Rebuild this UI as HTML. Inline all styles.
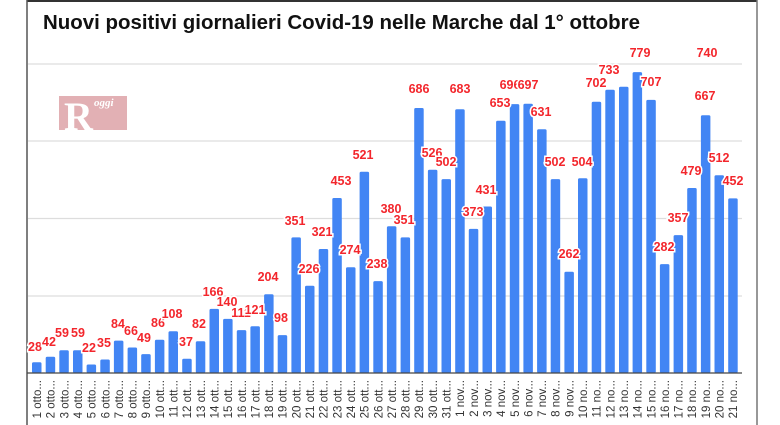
<!DOCTYPE html>
<html><head><meta charset="utf-8"><style>
html,body{margin:0;padding:0;background:#fff;}
svg{display:block;}
.l{font-family:"Liberation Sans",sans-serif;font-size:12.5px;font-weight:bold;fill:#f3262c;stroke:#fff;stroke-width:3px;paint-order:stroke;text-anchor:middle;}
.x{font-family:"Liberation Sans",sans-serif;font-size:11.5px;fill:#333;text-anchor:end;}
</style></head><body>
<svg width="780" height="425" viewBox="0 0 780 425" xmlns="http://www.w3.org/2000/svg">
<rect x="0" y="0" width="780" height="425" fill="#fff"/>
<line x1="27" y1="1" x2="757" y2="1" stroke="#333" stroke-width="2"/>
<line x1="27" y1="0" x2="27" y2="425" stroke="#555" stroke-width="1.5"/>
<line x1="757" y1="0" x2="757" y2="425" stroke="#777" stroke-width="1.5"/>
<text x="43" y="29" font-family="Liberation Sans,sans-serif" font-size="20" font-weight="bold" fill="#111" textLength="597" lengthAdjust="spacingAndGlyphs">Nuovi positivi giornalieri Covid-19 nelle Marche dal 1° ottobre</text>
<g stroke="#ddd" stroke-width="1.2">
<line x1="28" y1="64" x2="742" y2="64"/>
<line x1="28" y1="141" x2="742" y2="141"/>
<line x1="28" y1="218.5" x2="742" y2="218.5"/>
<line x1="28" y1="296" x2="742" y2="296"/>
</g>
<rect x="59" y="96" width="68" height="34" fill="#e2b0b4"/>
<text x="64" y="130" font-family="Liberation Serif,serif" font-size="40" font-weight="bold" fill="#fff">R</text>
<text x="94" y="106" font-family="Liberation Serif,serif" font-size="11" font-style="italic" font-weight="bold" fill="#fff">oggi</text>
<g fill="#4285f4">
<rect x="32.0" y="362.2" width="9.5" height="10.8" rx="1.5"/>
<rect x="45.7" y="356.8" width="9.5" height="16.2" rx="1.5"/>
<rect x="59.3" y="350.2" width="9.5" height="22.8" rx="1.5"/>
<rect x="73.0" y="350.2" width="9.5" height="22.8" rx="1.5"/>
<rect x="86.6" y="364.5" width="9.5" height="8.5" rx="1.5"/>
<rect x="100.3" y="359.5" width="9.5" height="13.5" rx="1.5"/>
<rect x="113.9" y="340.6" width="9.5" height="32.4" rx="1.5"/>
<rect x="127.6" y="347.5" width="9.5" height="25.5" rx="1.5"/>
<rect x="141.2" y="354.1" width="9.5" height="18.9" rx="1.5"/>
<rect x="154.9" y="339.8" width="9.5" height="33.2" rx="1.5"/>
<rect x="168.5" y="331.3" width="9.5" height="41.7" rx="1.5"/>
<rect x="182.2" y="358.7" width="9.5" height="14.3" rx="1.5"/>
<rect x="195.8" y="341.3" width="9.5" height="31.7" rx="1.5"/>
<rect x="209.5" y="308.9" width="9.5" height="64.1" rx="1.5"/>
<rect x="223.1" y="318.9" width="9.5" height="54.1" rx="1.5"/>
<rect x="236.8" y="330.1" width="9.5" height="42.9" rx="1.5"/>
<rect x="250.4" y="326.3" width="9.5" height="46.7" rx="1.5"/>
<rect x="264.1" y="294.2" width="9.5" height="78.8" rx="1.5"/>
<rect x="277.7" y="335.1" width="9.5" height="37.9" rx="1.5"/>
<rect x="291.4" y="237.4" width="9.5" height="135.6" rx="1.5"/>
<rect x="305.0" y="285.7" width="9.5" height="87.3" rx="1.5"/>
<rect x="318.7" y="249.0" width="9.5" height="124.0" rx="1.5"/>
<rect x="332.3" y="198.0" width="9.5" height="175.0" rx="1.5"/>
<rect x="346.0" y="267.2" width="9.5" height="105.8" rx="1.5"/>
<rect x="359.6" y="171.7" width="9.5" height="201.3" rx="1.5"/>
<rect x="373.3" y="281.1" width="9.5" height="91.9" rx="1.5"/>
<rect x="386.9" y="226.2" width="9.5" height="146.8" rx="1.5"/>
<rect x="400.6" y="237.4" width="9.5" height="135.6" rx="1.5"/>
<rect x="414.2" y="108.0" width="9.5" height="265.0" rx="1.5"/>
<rect x="427.9" y="169.8" width="9.5" height="203.2" rx="1.5"/>
<rect x="441.5" y="179.1" width="9.5" height="193.9" rx="1.5"/>
<rect x="455.2" y="109.2" width="9.5" height="263.8" rx="1.5"/>
<rect x="468.8" y="228.9" width="9.5" height="144.1" rx="1.5"/>
<rect x="482.5" y="206.5" width="9.5" height="166.5" rx="1.5"/>
<rect x="496.1" y="120.7" width="9.5" height="252.3" rx="1.5"/>
<rect x="509.8" y="104.1" width="9.5" height="268.9" rx="1.5"/>
<rect x="523.4" y="103.8" width="9.5" height="269.2" rx="1.5"/>
<rect x="537.1" y="129.2" width="9.5" height="243.8" rx="1.5"/>
<rect x="550.7" y="179.1" width="9.5" height="193.9" rx="1.5"/>
<rect x="564.4" y="271.8" width="9.5" height="101.2" rx="1.5"/>
<rect x="578.0" y="178.3" width="9.5" height="194.7" rx="1.5"/>
<rect x="591.7" y="101.8" width="9.5" height="271.2" rx="1.5"/>
<rect x="605.3" y="89.8" width="9.5" height="283.2" rx="1.5"/>
<rect x="619.0" y="86.8" width="9.5" height="286.2" rx="1.5"/>
<rect x="632.6" y="72.1" width="9.5" height="300.9" rx="1.5"/>
<rect x="646.3" y="99.9" width="9.5" height="273.1" rx="1.5"/>
<rect x="659.9" y="264.1" width="9.5" height="108.9" rx="1.5"/>
<rect x="673.6" y="235.1" width="9.5" height="137.9" rx="1.5"/>
<rect x="687.2" y="188.0" width="9.5" height="185.0" rx="1.5"/>
<rect x="700.9" y="115.3" width="9.5" height="257.7" rx="1.5"/>
<rect x="714.5" y="175.2" width="9.5" height="197.8" rx="1.5"/>
<rect x="728.2" y="198.4" width="9.5" height="174.6" rx="1.5"/>
</g>
<line x1="27" y1="373" x2="742" y2="373" stroke="#444" stroke-width="1.2"/>
<g class="l">
<text x="35" y="351">28</text><text x="49" y="346">42</text><text x="62" y="337">59</text><text x="78" y="337">59</text>
<text x="89" y="352">22</text><text x="104" y="347">35</text><text x="118" y="328">84</text><text x="131" y="335">66</text>
<text x="144" y="342">49</text><text x="158" y="327">86</text><text x="172" y="318">108</text><text x="186" y="346">37</text>
<text x="199" y="328">82</text><text x="213" y="296">166</text><text x="227" y="306">140</text><text x="241" y="317">111</text>
<text x="255" y="314">121</text><text x="268" y="281">204</text><text x="281" y="322">98</text><text x="295" y="225">351</text>
<text x="309" y="273">226</text><text x="322" y="236">321</text><text x="341" y="185">453</text><text x="350" y="254">274</text>
<text x="363" y="159">521</text><text x="377" y="268">238</text><text x="391" y="213">380</text><text x="404" y="224">351</text>
<text x="419" y="93">686</text><text x="432" y="157">526</text><text x="446" y="166">502</text><text x="460" y="93">683</text>
<text x="473" y="216">373</text><text x="486" y="194">431</text><text x="500" y="107">653</text><text x="510" y="89">696</text>
<text x="528" y="89">697</text><text x="541" y="116">631</text><text x="555" y="166">502</text><text x="569" y="258">262</text>
<text x="582" y="166">504</text><text x="596" y="87">702</text><text x="609" y="74">733</text><text x="640" y="57">779</text>
<text x="651" y="86">707</text><text x="664" y="251">282</text><text x="678" y="222">357</text><text x="691" y="175">479</text>
<text x="705" y="100">667</text><text x="707" y="57">740</text><text x="719" y="162">512</text><text x="733" y="185">452</text>
</g>
<g class="x">
<text transform="translate(41,380) rotate(-90)">1 otto...</text>
<text transform="translate(54.7,380) rotate(-90)">2 otto...</text>
<text transform="translate(68.3,380) rotate(-90)">3 otto...</text>
<text transform="translate(82,380) rotate(-90)">4 otto...</text>
<text transform="translate(95.6,380) rotate(-90)">5 otto...</text>
<text transform="translate(109.3,380) rotate(-90)">6 otto...</text>
<text transform="translate(122.9,380) rotate(-90)">7 otto...</text>
<text transform="translate(136.6,380) rotate(-90)">8 otto...</text>
<text transform="translate(150.2,380) rotate(-90)">9 otto...</text>
<text transform="translate(163.9,380) rotate(-90)">10 ott...</text>
<text transform="translate(177.5,380) rotate(-90)">11 ott...</text>
<text transform="translate(191.2,380) rotate(-90)">12 ott...</text>
<text transform="translate(204.8,380) rotate(-90)">13 ott...</text>
<text transform="translate(218.5,380) rotate(-90)">14 ott...</text>
<text transform="translate(232.1,380) rotate(-90)">15 ott...</text>
<text transform="translate(245.8,380) rotate(-90)">16 ott...</text>
<text transform="translate(259.4,380) rotate(-90)">17 ott...</text>
<text transform="translate(273.1,380) rotate(-90)">18 ott...</text>
<text transform="translate(286.7,380) rotate(-90)">19 ott...</text>
<text transform="translate(300.4,380) rotate(-90)">20 ott...</text>
<text transform="translate(314,380) rotate(-90)">21 ott...</text>
<text transform="translate(327.7,380) rotate(-90)">22 ott...</text>
<text transform="translate(341.3,380) rotate(-90)">23 ott...</text>
<text transform="translate(355,380) rotate(-90)">24 ott...</text>
<text transform="translate(368.6,380) rotate(-90)">25 ott...</text>
<text transform="translate(382.3,380) rotate(-90)">26 ott...</text>
<text transform="translate(395.9,380) rotate(-90)">27 ott...</text>
<text transform="translate(409.6,380) rotate(-90)">28 ott...</text>
<text transform="translate(423.2,380) rotate(-90)">29 ott...</text>
<text transform="translate(436.9,380) rotate(-90)">30 ott...</text>
<text transform="translate(450.5,380) rotate(-90)">31 ott...</text>
<text transform="translate(464.2,380) rotate(-90)">1 nov...</text>
<text transform="translate(477.8,380) rotate(-90)">2 nov...</text>
<text transform="translate(491.5,380) rotate(-90)">3 nov...</text>
<text transform="translate(505.1,380) rotate(-90)">4 nov...</text>
<text transform="translate(518.8,380) rotate(-90)">5 nov...</text>
<text transform="translate(532.4,380) rotate(-90)">6 nov...</text>
<text transform="translate(546.1,380) rotate(-90)">7 nov...</text>
<text transform="translate(559.7,380) rotate(-90)">8 nov...</text>
<text transform="translate(573.4,380) rotate(-90)">9 nov...</text>
<text transform="translate(587,380) rotate(-90)">10 no...</text>
<text transform="translate(600.7,380) rotate(-90)">11 no...</text>
<text transform="translate(614.3,380) rotate(-90)">12 no...</text>
<text transform="translate(628,380) rotate(-90)">13 no...</text>
<text transform="translate(641.6,380) rotate(-90)">14 no...</text>
<text transform="translate(655.3,380) rotate(-90)">15 no...</text>
<text transform="translate(668.9,380) rotate(-90)">16 no...</text>
<text transform="translate(682.6,380) rotate(-90)">17 no...</text>
<text transform="translate(696.2,380) rotate(-90)">18 no...</text>
<text transform="translate(709.9,380) rotate(-90)">19 no...</text>
<text transform="translate(723.5,380) rotate(-90)">20 no...</text>
<text transform="translate(737.2,380) rotate(-90)">21 no...</text>
</g>
</svg>
</body></html>
